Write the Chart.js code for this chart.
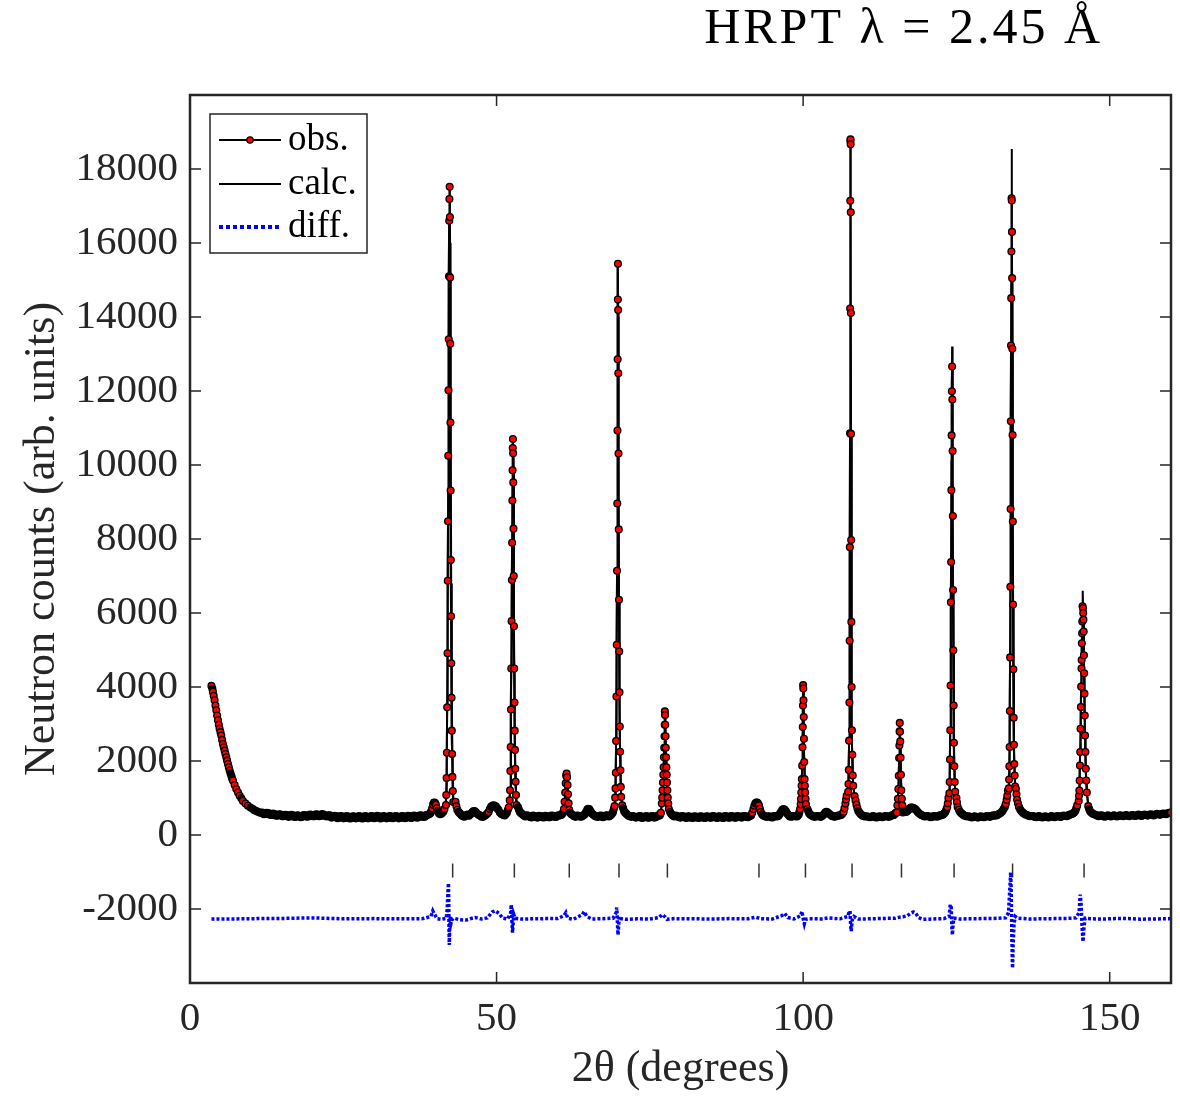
<!DOCTYPE html>
<html>
<head>
<meta charset="utf-8">
<script src="https://cdn.jsdelivr.net/npm/chart.js@4.4.0/dist/chart.umd.min.js"></script>
<style>
  html, body { margin: 0; padding: 0; background: #fff; }
  #wrap { width: 1180px; height: 1096px; }
</style>
</head>
<body>
<div id="wrap"><canvas id="hrpt" width="1180" height="1096"></canvas></div>
<script>
const lowAngle = [
	[3.5, 4030], [3.65, 3950], [3.73, 3870], [3.87, 3760], [4.01, 3640], [4.15, 3500], [4.29, 3370],
	[4.43, 3230], [4.56, 3100], [4.7, 2980], [4.83, 2870], [4.97, 2780], [5.1, 2690], [5.24, 2570],
	[5.37, 2460], [5.51, 2370], [5.65, 2280], [5.78, 2190], [5.92, 2100], [6.05, 2010], [6.19, 1920],
	[6.33, 1830], [6.46, 1740], [6.6, 1670], [6.74, 1600], [6.87, 1530], [7.0, 1470], [7.28, 1350],
	[7.55, 1240], [7.83, 1150], [8.1, 1060], [8.37, 990], [8.63, 920], [9.05, 850], [9.45, 790],
	[9.85, 740], [10.26, 700], [10.5, 670], [10.8, 650], [11.05, 630], [11.35, 610], [11.55, 600]
];

// flat background, first pass of channels
const background = [
	[11.8, 610], [12.3, 570], [12.8, 590], [13.3, 540], [13.8, 565], [14.3, 525], [14.8, 550], [15.3, 510],
	[15.8, 540], [16.3, 500], [16.8, 530], [17.3, 495], [17.8, 520], [18.3, 490], [18.8, 530], [19.3, 500],
	[19.8, 545], [20.3, 510], [20.8, 555], [21.3, 515], [21.8, 550], [22.3, 500], [22.8, 530], [23.3, 480],
	[23.8, 510], [24.3, 465], [24.8, 505], [25.3, 460], [25.8, 500], [26.3, 455], [26.8, 500], [27.3, 462],
	[27.8, 498], [28.3, 455], [28.8, 500], [29.3, 460], [29.8, 505], [30.3, 465], [30.8, 505], [31.3, 458],
	[31.8, 500], [32.3, 460], [32.8, 505], [33.3, 465], [33.8, 500], [34.3, 460], [34.8, 505], [35.3, 468],
	[35.8, 510], [36.3, 470], [36.8, 515], [37.3, 480], [37.8, 525], [38.3, 495], [38.8, 545], [39.2, 590],
	[39.5, 720], [39.8, 880], [40.1, 820], [40.4, 640], [40.8, 560], [41.2, 610], [41.5, 700],
	[43.3, 900], [43.6, 680], [44.0, 590], [44.5, 510], [45.0, 530], [45.5, 520], [46.0, 610], [46.4, 650],
	[46.8, 580], [47.3, 530], [47.8, 490], [48.3, 545], [48.7, 620], [49.1, 760], [49.5, 800], [49.9, 770],
	[50.3, 680], [50.8, 570], [51.3, 530], [51.7, 610], [52.0, 750],
	[53.5, 750], [53.8, 620], [54.2, 560], [54.7, 500], [55.2, 520], [55.7, 475], [56.2, 515], [56.7, 470],
	[57.2, 510], [57.7, 472], [58.2, 512], [58.7, 478], [59.2, 520], [59.7, 485], [60.2, 530], [60.6, 545],
	[60.9, 620],
	[62.0, 600], [62.4, 540], [62.9, 490], [63.4, 520], [63.9, 500], [64.4, 560], [64.8, 690], [65.1, 700],
	[65.4, 620], [65.8, 545], [66.3, 495], [66.8, 520], [67.3, 480], [67.8, 525], [68.3, 500], [68.7, 545],
	[69.0, 620], [69.25, 780],
	[70.5, 800], [70.8, 640], [71.2, 570], [71.7, 505], [72.2, 515], [72.7, 470], [73.2, 505], [73.7, 462],
	[74.2, 500], [74.7, 465], [75.2, 505], [75.7, 470], [76.2, 515], [76.6, 525], [76.8, 600],
	[78.3, 620], [78.6, 545], [79.0, 500], [79.5, 510], [80.0, 470], [80.5, 505], [81.0, 462], [81.5, 500],
	[82.0, 458], [82.5, 498], [83.0, 462], [83.5, 500], [84.0, 458], [84.5, 498], [85.0, 465], [85.5, 505],
	[86.0, 462], [86.5, 500], [87.0, 460], [87.5, 503], [88.0, 468], [88.5, 505], [89.0, 465], [89.5, 505],
	[90.0, 470], [90.5, 510], [91.0, 480], [91.5, 530], [91.9, 700], [92.2, 850], [92.5, 880], [92.8, 800],
	[93.1, 620], [93.5, 530], [94.0, 490], [94.5, 505], [95.0, 475], [95.5, 510], [96.0, 520], [96.4, 620],
	[96.8, 700], [97.2, 640], [97.6, 540], [98.0, 495], [98.5, 515], [99.0, 500], [99.3, 560], [99.5, 700],
	[100.7, 700], [101.0, 580], [101.4, 525], [101.9, 490], [102.4, 510], [102.9, 490], [103.4, 560], [103.8, 630],
	[104.2, 580], [104.7, 515], [105.2, 495], [105.7, 525], [106.2, 540], [106.6, 620], [106.9, 850], [107.1, 1060],
	[108.4, 1050], [108.7, 820], [109.0, 650], [109.4, 560], [109.9, 510], [110.4, 505], [110.9, 480], [111.4, 510],
	[111.9, 475], [112.4, 505], [112.9, 480], [113.4, 515], [113.9, 490], [114.4, 525], [114.8, 540], [115.1, 600],
	[116.4, 650], [116.8, 620], [117.2, 680], [117.6, 740], [118.0, 730], [118.4, 680], [118.8, 600], [119.3, 540],
	[119.8, 500], [120.3, 515], [120.8, 480], [121.3, 510], [121.8, 495], [122.3, 530], [122.8, 550], [123.2, 620],
	[123.5, 750], [123.7, 1000],
	[125.0, 1000], [125.2, 760], [125.6, 620], [126.0, 560], [126.5, 515], [127.0, 505], [127.5, 475], [128.0, 505],
	[128.5, 470], [129.0, 505], [129.5, 478], [130.0, 515], [130.5, 490], [131.0, 530], [131.5, 530], [132.0, 575],
	[132.5, 640], [132.9, 760], [133.2, 950], [133.4, 1200],
	[134.7, 1250], [134.9, 950], [135.2, 760], [135.6, 640], [136.0, 580], [136.5, 540], [137.0, 510], [137.5, 510],
	[138.0, 480], [138.5, 510], [139.0, 472], [139.5, 505], [140.0, 475], [140.5, 510], [141.0, 480], [141.5, 515],
	[142.0, 488], [142.5, 525], [143.0, 510], [143.5, 550], [144.0, 580], [144.4, 650], [144.7, 800],
	[146.5, 780], [146.8, 640], [147.2, 580], [147.7, 545], [148.2, 510], [148.7, 535], [149.2, 495], [149.7, 530],
	[150.2, 500], [150.7, 535], [151.2, 500], [151.7, 535], [152.2, 505], [152.7, 540], [153.2, 510], [153.7, 540],
	[154.2, 512], [154.7, 550], [155.2, 515], [155.7, 555], [156.2, 525], [156.7, 560], [157.2, 530], [157.7, 570],
	[158.2, 545], [158.7, 580], [159.2, 560], [159.7, 600], [160.0, 610]
];

// flat background, channels in between
const backgroundMid = [
	[12.05, 560], [12.55, 600], [13.05, 545], [13.55, 580], [14.05, 520], [14.55, 560], [15.05, 505], [15.55, 545],
	[16.05, 490], [16.55, 545], [17.05, 485], [17.55, 535], [18.05, 480], [18.55, 540], [19.05, 495], [19.55, 550],
	[20.05, 505], [20.55, 560], [21.05, 510], [21.55, 565], [22.05, 515], [22.55, 535], [23.05, 470], [23.55, 520],
	[24.05, 455], [24.55, 515], [25.05, 450], [25.55, 510], [26.05, 448], [26.55, 508], [27.05, 450], [27.55, 512],
	[28.05, 445], [28.55, 510], [29.05, 450], [29.55, 515], [30.05, 452], [30.55, 518], [31.05, 448], [31.55, 512],
	[32.05, 450], [32.55, 515], [33.05, 455], [33.55, 512], [34.05, 450], [34.55, 515], [35.05, 455], [35.55, 520],
	[36.05, 460], [36.55, 525], [37.05, 468], [37.55, 535], [38.05, 485], [38.55, 540], [39.0, 560], [39.35, 640],
	[39.65, 820], [39.95, 870], [40.25, 720], [40.6, 590], [41.0, 575], [41.35, 640],
	[43.45, 780], [43.8, 620], [44.25, 540], [44.75, 495], [45.25, 555], [45.75, 560], [46.2, 640], [46.6, 620],
	[47.05, 545], [47.55, 495], [48.05, 520], [48.5, 580], [48.9, 700], [49.3, 790], [49.7, 790], [50.1, 720],
	[50.55, 610], [51.05, 545], [51.5, 560], [51.85, 680],
	[53.65, 680], [54.0, 590], [54.45, 525], [54.95, 535], [55.45, 485], [55.95, 525], [56.45, 480], [56.95, 520],
	[57.45, 478], [57.95, 518], [58.45, 480], [58.95, 525], [59.45, 490], [59.95, 528], [60.4, 535], [60.75, 580],
	[62.2, 560], [62.65, 510], [63.15, 525], [63.65, 495], [64.15, 530], [64.6, 620], [64.95, 710], [65.25, 660],
	[65.6, 575], [66.05, 515], [66.55, 490], [67.05, 525], [67.55, 490], [68.05, 530], [68.5, 520], [68.85, 580],
	[69.12, 700],
	[70.65, 720], [71.0, 600], [71.45, 530], [71.95, 490], [72.45, 500], [72.95, 478], [73.45, 515], [73.95, 470],
	[74.45, 512], [74.95, 472], [75.45, 515], [75.95, 482], [76.4, 530], [76.7, 560],
	[78.45, 580], [78.8, 520], [79.25, 525], [79.75, 478], [80.25, 512], [80.75, 470], [81.25, 508], [81.75, 465],
	[82.25, 505], [82.75, 468], [83.25, 508], [83.75, 466], [84.25, 505], [84.75, 470], [85.25, 510], [85.75, 472],
	[86.25, 508], [86.75, 468], [87.25, 510], [87.75, 475], [88.25, 512], [88.75, 475], [89.25, 512], [89.75, 478],
	[90.25, 515], [90.75, 490], [91.25, 505], [91.7, 600], [92.05, 790], [92.35, 880], [92.65, 850], [92.95, 710],
	[93.3, 560], [93.75, 505], [94.25, 500], [94.75, 480], [95.25, 512], [95.75, 500], [96.2, 570], [96.6, 680],
	[97.0, 680], [97.4, 580], [97.8, 510], [98.25, 500], [98.75, 510], [99.15, 530], [99.4, 620],
	[100.85, 640], [101.2, 545], [101.65, 500], [102.15, 505], [102.65, 498], [103.15, 520], [103.6, 610], [104.0, 610],
	[104.45, 545], [104.95, 500], [105.45, 515], [105.95, 530], [106.4, 575], [106.75, 720], [107.0, 960],
	[108.55, 930], [108.85, 720], [109.2, 600], [109.65, 530], [110.15, 500], [110.65, 495], [111.15, 490], [111.65, 498],
	[112.15, 482], [112.65, 500], [113.15, 490], [113.65, 505], [114.15, 500], [114.6, 535], [114.95, 565],
	[116.6, 630], [117.0, 650], [117.4, 720], [117.8, 745], [118.2, 705], [118.6, 640], [119.05, 565], [119.55, 520],
	[120.05, 505], [120.55, 500], [121.05, 490], [121.55, 508], [122.05, 505], [122.55, 535], [123.0, 580], [123.35, 680],
	[123.6, 860],
	[125.1, 880], [125.4, 680], [125.8, 590], [126.25, 530], [126.75, 500], [127.25, 495], [127.75, 490], [128.25, 485],
	[128.75, 490], [129.25, 488], [129.75, 500], [130.25, 500], [130.75, 515], [131.25, 525], [131.75, 550], [132.25, 600],
	[132.7, 700], [133.05, 840], [133.3, 1060],
	[134.8, 1100], [135.05, 850], [135.4, 690], [135.8, 610], [136.25, 555], [136.75, 520], [137.25, 515], [137.75, 490],
	[138.25, 500], [138.75, 485], [139.25, 492], [139.75, 488], [140.25, 495], [140.75, 492], [141.25, 500], [141.75, 498],
	[142.25, 510], [142.75, 515], [143.25, 530], [143.75, 560], [144.2, 610], [144.55, 720],
	[146.65, 700], [147.0, 610], [147.45, 560], [147.95, 525], [148.45, 525], [148.95, 510], [149.45, 515], [149.95, 512],
	[150.45, 520], [150.95, 515], [151.45, 520], [151.95, 518], [152.45, 525], [152.95, 522], [153.45, 528], [153.95, 525],
	[154.45, 535], [154.95, 530], [155.45, 538], [155.95, 540], [156.45, 545], [156.95, 548], [157.45, 552], [157.95, 560],
	[158.45, 565], [158.95, 575], [159.45, 585], [159.85, 600]
];

// Bragg peaks (obs.)
const peak42 = [
	[41.75, 810], [41.8, 1080], [41.85, 1540], [41.9, 2220], [41.95, 3450], [42.0, 4910], [42.04, 6870],
	[42.08, 8480], [42.12, 10250], [42.16, 12020], [42.2, 13400], [42.24, 15100], [42.28, 16600], [42.31, 17190],
	[42.35, 17520], [42.39, 16700], [42.42, 15070], [42.45, 13280], [42.48, 11150], [42.51, 9310], [42.54, 7430],
	[42.58, 5910], [42.62, 4640], [42.66, 3710], [42.7, 2820], [42.75, 2190], [42.8, 1570], [42.86, 1190], [42.94, 890]
];
const peak53 = [
	[52.15, 940], [52.2, 1210], [52.25, 1730], [52.3, 2380], [52.35, 3390], [52.4, 4500], [52.45, 5780],
	[52.5, 6890], [52.54, 7900], [52.58, 9040], [52.61, 9860], [52.64, 10460], [52.67, 10700], [52.7, 10320],
	[52.73, 9530], [52.76, 8280], [52.8, 7000], [52.84, 5640], [52.88, 4500], [52.92, 3580], [52.96, 2820],
	[53.0, 2300], [53.05, 1790], [53.1, 1440], [53.17, 1080], [53.25, 810]
];
const peak61 = [
	[61.0, 700], [61.1, 900], [61.2, 1150], [61.28, 1400], [61.35, 1600], [61.42, 1660], [61.5, 1560],
	[61.58, 1350], [61.66, 1100], [61.75, 860], [61.85, 680]
];
const peak70 = [
	[69.35, 1010], [69.4, 1260], [69.45, 1680], [69.5, 2540], [69.55, 3740], [69.6, 5140], [69.65, 7140],
	[69.69, 8960], [69.72, 10930], [69.75, 12860], [69.78, 14470], [69.8, 15440], [69.83, 14190], [69.86, 12480],
	[69.89, 10310], [69.93, 8260], [69.97, 6360], [70.01, 4960], [70.05, 3860], [70.1, 2930], [70.15, 2250],
	[70.2, 1750], [70.26, 1300], [70.33, 1030]
];
const peak77 = [
	[76.95, 850], [77.02, 1010], [77.08, 1210], [77.14, 1420], [77.2, 1630], [77.25, 1830], [77.3, 2100],
	[77.35, 2360], [77.39, 2670], [77.42, 2980], [77.45, 3340], [77.48, 3240], [77.52, 2980], [77.56, 2670],
	[77.6, 2360], [77.65, 2100], [77.7, 1830], [77.75, 1630], [77.8, 1420], [77.86, 1210], [77.92, 1010],
	[78.0, 850], [78.1, 700]
];
const peak100 = [
	[99.6, 830], [99.65, 970], [99.7, 1150], [99.75, 1330], [99.8, 1510], [99.85, 1875], [99.9, 2370],
	[99.94, 2920], [99.97, 3500], [100.0, 4050], [100.03, 3960], [100.06, 3640], [100.1, 3190], [100.14, 2600],
	[100.18, 1970], [100.23, 1510], [100.28, 1330], [100.34, 1150], [100.4, 970], [100.47, 830]
];
const peak108 = [
	[107.35, 1170], [107.4, 1380], [107.45, 1760], [107.5, 2550], [107.55, 3580], [107.59, 5250], [107.62, 7780],
	[107.65, 10860], [107.67, 14230], [107.69, 17140], [107.71, 18760], [107.73, 18800], [107.75, 18670],
	[107.77, 16830], [107.79, 14110], [107.81, 10840], [107.84, 7970], [107.87, 5760], [107.91, 4000],
	[107.96, 2830], [108.02, 2170], [108.09, 1610], [108.17, 1330]
];
const peak116 = [
	[115.3, 610], [115.38, 800], [115.46, 980], [115.53, 1240], [115.6, 1600], [115.66, 2080], [115.7, 2420],
	[115.73, 2800], [115.76, 3030], [115.8, 2790], [115.84, 2530], [115.89, 2090], [115.95, 1630], [116.02, 1210],
	[116.1, 980], [116.18, 800], [116.27, 610]
];
const peak124 = [
	[123.85, 1130], [123.9, 1430], [123.95, 2040], [124.0, 2830], [124.05, 4040], [124.1, 6290], [124.14, 7380],
	[124.18, 9320], [124.22, 10800], [124.26, 11990], [124.3, 12660], [124.34, 11770], [124.38, 10380],
	[124.42, 8620], [124.46, 6620], [124.5, 4990], [124.55, 3500], [124.6, 2490], [124.66, 1860], [124.72, 1430],
	[124.8, 1170]
];
const peak134 = [
	[133.55, 1260], [133.6, 1500], [133.64, 1860], [133.68, 2380], [133.72, 3350], [133.76, 4800], [133.8, 6710],
	[133.84, 8810], [133.88, 11180], [133.91, 13230], [133.94, 14510], [133.97, 15770], [134.0, 17210],
	[134.03, 17150], [134.06, 16300], [134.09, 15050], [134.12, 13140], [134.16, 10810], [134.2, 8470],
	[134.24, 6230], [134.29, 4480], [134.34, 3170], [134.39, 2440], [134.44, 1920], [134.5, 1610], [134.58, 1310]
];
const peak146 = [
	[144.95, 920], [145.0, 1060], [145.05, 1200], [145.1, 1470], [145.15, 1880], [145.2, 2240], [145.25, 2870],
	[145.3, 3460], [145.35, 4010], [145.4, 4500], [145.43, 4730], [145.46, 5180], [145.5, 5450], [145.53, 5770],
	[145.57, 6180], [145.64, 6130], [145.68, 6000], [145.72, 5820], [145.76, 5500], [145.8, 4860], [145.84, 4370],
	[145.88, 3820], [145.93, 3230], [145.98, 2690], [146.04, 2240], [146.1, 1790], [146.18, 1470], [146.27, 1150]
];

// Calculated profile
const calcProfile = [
	[3.5, 4000], [4, 3650], [4.5, 3160], [5, 2760], [5.5, 2380], [6, 2050], [6.5, 1730], [7, 1460], [7.5, 1260],
	[8, 1090], [8.5, 950], [9, 850], [9.5, 780], [10, 720], [11, 630], [12, 580], [13, 555], [15, 525], [17, 510],
	[19, 512], [21, 528], [23, 505], [25, 483], [28, 479], [31, 481], [34, 482], [37, 498], [38.8, 530], [39.4, 680],
	[39.8, 860], [40.2, 760], [40.7, 580], [41.3, 620], [41.7, 800],
	[41.85, 1500], [42.0, 4900], [42.1, 9300], [42.2, 13400], [42.28, 16500], [42.35, 17450], [42.42, 16000],
	[42.5, 11700], [42.6, 6800], [42.7, 3700], [42.8, 2200], [42.95, 1000], [43.2, 880], [43.5, 700], [44, 580],
	[45, 515], [46, 590], [46.4, 640], [47, 550], [48, 505], [49, 750], [49.5, 790], [50, 760], [51, 560],
	[51.7, 610], [52.0, 760],
	[52.2, 1200], [52.35, 3390], [52.5, 6890], [52.6, 9500], [52.67, 10750], [52.74, 9900], [52.84, 5640],
	[52.96, 2820], [53.1, 1440], [53.3, 820], [53.8, 620], [54.5, 510], [56, 492], [58, 491], [60, 510],
	[60.8, 600], [61.1, 900], [61.3, 1450], [61.42, 1680], [61.55, 1450], [61.75, 860], [62, 600], [63, 505],
	[64.4, 560], [65, 700], [65.5, 600], [66.5, 505], [68.5, 520], [69.1, 640], [69.3, 850],
	[69.45, 1700], [69.55, 3700], [69.65, 7100], [69.72, 10900], [69.78, 14400], [69.8, 15450], [69.84, 14000],
	[69.9, 10000], [69.97, 6400], [70.05, 3900], [70.15, 2250], [70.3, 1150], [70.5, 780], [71, 590], [72, 502],
	[74, 481], [76, 498], [76.8, 600],
	[77.0, 1000], [77.2, 1630], [77.35, 2360], [77.45, 3360], [77.55, 2700], [77.7, 1830], [77.9, 1050],
	[78.1, 700], [78.4, 600], [79, 510], [81, 482], [84, 479], [87, 481], [90, 488], [91.5, 530], [92, 720],
	[92.5, 870], [93, 680], [93.5, 530], [95, 490], [96.4, 610], [96.8, 690], [97.3, 620], [98, 505],
	[99.2, 540], [99.5, 700],
	[99.7, 1150], [99.85, 1880], [99.94, 2900], [100.0, 4080], [100.06, 3620], [100.14, 2600], [100.28, 1330],
	[100.47, 830], [100.7, 690], [101.4, 520], [102.5, 495], [103.8, 620], [104.7, 520], [106.2, 540],
	[106.8, 750], [107.1, 1050],
	[107.35, 1200], [107.5, 2550], [107.6, 5300], [107.65, 10900], [107.69, 17100], [107.73, 18800],
	[107.77, 16800], [107.81, 10800], [107.87, 5700], [107.96, 2800], [108.09, 1600], [108.2, 1300],
	[108.4, 1050], [108.7, 820], [109.4, 560], [110.5, 500], [112, 490], [114, 508], [115.1, 600],
	[115.3, 620], [115.5, 1100], [115.66, 2080], [115.76, 3050], [115.86, 2400], [116.0, 1400], [116.2, 780],
	[116.5, 640], [116.8, 620], [117.6, 730], [118.4, 680], [119.3, 540], [121, 497], [122.5, 530], [123.2, 620],
	[123.6, 900],
	[123.85, 1150], [124.0, 2830], [124.1, 6290], [124.2, 10100], [124.27, 12400], [124.3, 13200],
	[124.34, 11900], [124.42, 8600], [124.5, 5000], [124.6, 2500], [124.72, 1430], [124.85, 1120], [125.1, 900],
	[125.6, 620], [126.5, 520], [128, 490], [130, 500], [132, 570], [132.9, 760], [133.3, 1100],
	[133.55, 1300], [133.68, 2400], [133.8, 6700], [133.88, 11200], [133.95, 15000], [134.01, 18540],
	[134.06, 16400], [134.12, 13100], [134.2, 8500], [134.29, 4500], [134.39, 2450], [134.5, 1600],
	[134.65, 1270], [134.9, 950], [135.6, 640], [136.5, 540], [138.5, 495], [141, 498], [143, 525], [144, 580],
	[144.7, 800],
	[144.95, 940], [145.1, 1480], [145.25, 2870], [145.4, 4500], [145.5, 5500], [145.6, 6600], [145.7, 5900],
	[145.8, 4850], [145.93, 3230], [146.04, 2240], [146.18, 1470], [146.3, 1100], [146.6, 730], [147.2, 580],
	[148.5, 522], [151, 518], [154, 530], [157, 548], [159, 575], [160, 605]
];

// Difference curve (obs - calc, shifted)
const diffCurve = [
	[3.5, -2270], [10.8, -2265], [11, -2260], [15, -2255], [20, -2240], [22, -2250], [25, -2265], [30, -2260],
	[35, -2265], [38, -2260], [39.3, -2200], [39.6, -2050], [39.9, -2150], [40.3, -2260], [41, -2280],
	[41.8, -2250], [41.95, -2000], [42.05, -1600], [42.15, -1300], [42.2, -1800], [42.25, -2600], [42.3, -2970],
	[42.35, -2500], [42.45, -2200], [42.55, -2400], [42.7, -2300], [43, -2250], [44, -2290], [45, -2300],
	[46, -2250], [46.5, -2230], [47.5, -2270], [48.5, -2240], [49.3, -2080], [49.8, -2050], [50.4, -2120],
	[51, -2250], [51.8, -2270], [52.3, -2100], [52.4, -1880], [52.5, -2300], [52.6, -2640], [52.7, -2400],
	[52.8, -2150], [53, -2250], [54, -2270], [56, -2265], [58, -2260], [60, -2255], [61, -2180], [61.3, -2100],
	[61.6, -2250], [62.5, -2280], [64, -2150], [64.3, -2070], [64.7, -2200], [65.5, -2270], [67, -2265],
	[69, -2250], [69.5, -2100], [69.6, -1960], [69.7, -2300], [69.8, -2700], [69.9, -2500], [70, -2200],
	[70.3, -2260], [71, -2280], [73, -2265], [75, -2270], [76.5, -2230], [77, -2150], [77.4, -2200],
	[77.8, -2280], [79, -2260], [82, -2265], [85, -2270], [88, -2260], [91, -2265], [92.3, -2220], [93, -2260],
	[95, -2270], [96.5, -2180], [97, -2120], [97.5, -2230], [98.5, -2270], [99.6, -2180], [99.8, -2060],
	[100, -2250], [100.2, -2400], [100.4, -2280], [101, -2260], [103, -2270], [104, -2240], [106, -2265],
	[107.3, -2200], [107.5, -2080], [107.65, -2050], [107.75, -2450], [107.85, -2600], [108, -2300],
	[108.3, -2200], [109, -2270], [111, -2265], [113, -2255], [115, -2250], [115.7, -2220], [116.3, -2210],
	[117, -2180], [117.5, -2120], [118, -2080], [118.4, -2120], [118.8, -2230], [119.5, -2280], [121, -2270],
	[123, -2260], [123.8, -2200], [124.0, -1880], [124.15, -1950], [124.25, -2450], [124.35, -2700],
	[124.45, -2400], [124.6, -2250], [125.5, -2270], [127, -2265], [129, -2260], [131, -2255], [133, -2240],
	[133.5, -2100], [133.7, -1500], [133.85, -1010], [133.95, -1600], [134.05, -2800], [134.15, -3600],
	[134.25, -3000], [134.4, -2400], [134.6, -2200], [135, -2250], [137, -2270], [139, -2265], [141, -2260],
	[143, -2255], [144.5, -2240], [145.0, -2100], [145.2, -1610], [145.35, -1900], [145.5, -2500],
	[145.65, -2880], [145.8, -2500], [146, -2250], [147, -2265], [149, -2270], [151, -2260], [153, -2260],
	[155, -2275], [157, -2270], [159, -2265], [160, -2260]
];

// Bragg reflection markers
const reflTheta = [42.84, 52.9, 61.86, 69.97, 77.86, 92.8, 100.38, 107.98, 116.04, 124.62, 134.16, 145.82];
const reflRow = -960;

// Axis ticks
const xTicks = [0, 50, 100, 150];
const yLabelled = [-2000, 0, 2000, 4000, 6000, 8000, 10000, 12000, 14000, 16000, 18000];

const toXY = (pairs) => pairs.map(([x, y]) => ({ x: x, y: y }));

const obsPoints = toXY([lowAngle, background, backgroundMid, peak42, peak53, peak61, peak70, peak77,
	peak100, peak108, peak116, peak124, peak134, peak146].flat().sort((a, b) => a[0] - b[0]));
const calcPoints = toXY(calcProfile);
const diffPoints = toXY(diffCurve);
const reflPoints = reflTheta.map((t) => ({ x: t, y: reflRow }));

const SERIF = "'Liberation Serif', 'Times New Roman', serif";
const INK = '#262626';

// where markers pile up (flat background) the black edges hide the red fill
function markerFill(c) {
	const pts = c.dataset.data;
	const i = c.dataIndex;
	const sx = c.chart.scales.x, sy = c.chart.scales.y;
	if (!sx || !sy || i <= 0 || i >= pts.length - 1) return '#ff0000';
	const px = (p) => [sx.getPixelForValue(p.x), sy.getPixelForValue(p.y)];
	const [x0, y0] = px(pts[i]);
	const near = [pts[i - 1], pts[i + 1]].every((p) => {
		const [x1, y1] = px(p);
		return Math.hypot(x1 - x0, y1 - y0) < 3.2;
	});
	return near ? '#000' : '#ff0000';
}

// frame with inward ticks on all four sides (matlab box on)
const axesBox = {
	id: 'axesBox',
	afterDatasetsDraw(chart) {
		const { ctx, chartArea: a, scales } = chart;
		const len = 11;
		ctx.save();
		ctx.strokeStyle = INK;
		ctx.lineWidth = 1.5;
		ctx.beginPath();
		scales.x.ticks.forEach((t) => {
			const px = scales.x.getPixelForValue(t.value);
			ctx.moveTo(px, a.bottom); ctx.lineTo(px, a.bottom - len);
			ctx.moveTo(px, a.top); ctx.lineTo(px, a.top + len);
		});
		scales.y.ticks.forEach((t) => {
			const py = scales.y.getPixelForValue(t.value);
			ctx.moveTo(a.left, py); ctx.lineTo(a.left + len, py);
			ctx.moveTo(a.right, py); ctx.lineTo(a.right - len, py);
		});
		ctx.stroke();
		ctx.lineWidth = 2.5;
		ctx.strokeRect(a.left, a.top, a.right - a.left, a.bottom - a.top);
		ctx.restore();
	}
};

// legend box in the top-left corner
const legendBox = {
	id: 'legendBox',
	afterDraw(chart) {
		const { ctx, chartArea: a } = chart;
		const left = a.left + 20, top = a.top + 19, w = 157, h = 139;
		ctx.save();
		ctx.fillStyle = '#fff';
		ctx.fillRect(left, top, w, h);
		ctx.strokeStyle = INK;
		ctx.lineWidth = 1.5;
		ctx.strokeRect(left, top, w, h);

		const x0 = left + 9, x1 = left + 71;
		const rows = [top + 26, top + 70, top + 113];

		// obs.
		ctx.strokeStyle = '#000';
		ctx.lineWidth = 2;
		ctx.beginPath();
		ctx.moveTo(x0, rows[0]); ctx.lineTo(x1, rows[0]);
		ctx.moveTo(x0, rows[1]); ctx.lineTo(x1, rows[1]);
		ctx.stroke();
		ctx.beginPath();
		ctx.arc((x0 + x1) / 2, rows[0], 3.2, 0, Math.PI * 2);
		ctx.fillStyle = '#ff0000';
		ctx.fill();
		ctx.lineWidth = 1.2;
		ctx.stroke();

		// diff.
		ctx.strokeStyle = '#0000ff';
		ctx.lineWidth = 4;
		ctx.setLineDash([4, 3]);
		ctx.beginPath();
		ctx.moveTo(x0, rows[2]); ctx.lineTo(x1, rows[2]);
		ctx.stroke();
		ctx.setLineDash([]);

		ctx.fillStyle = '#000';
		ctx.font = '37px ' + SERIF;
		ctx.textBaseline = 'middle';
		ctx.textAlign = 'left';
		['obs.', 'calc.', 'diff.'].forEach((s, i) => ctx.fillText(s, x1 + 7, rows[i]));
		ctx.restore();
	}
};

// title above the axes, right side
const titleText = {
	id: 'titleText',
	afterDraw(chart) {
		const { ctx, chartArea: a } = chart;
		ctx.save();
		ctx.fillStyle = '#000';
		ctx.font = '50px ' + SERIF;
		ctx.letterSpacing = '3px';
		ctx.textAlign = 'right';
		ctx.textBaseline = 'alphabetic';
		ctx.fillText('HRPT \u03bb = 2.45 \u00c5', a.right - 68, a.top - 52);
		ctx.restore();
	}
};

new Chart(document.getElementById('hrpt'), {
	type: 'line',
	data: {
		datasets: [
			{
				label: 'obs.',
				data: obsPoints,
				borderColor: '#000',
				borderWidth: 2,
				pointRadius: 3.4,
				pointHoverRadius: 3.4,
				pointBackgroundColor: markerFill,
				pointBorderColor: '#000',
				pointBorderWidth: 1.3
			},
			{
				label: 'calc.',
				data: calcPoints,
				borderColor: '#000',
				borderWidth: 2,
				pointRadius: 0
			},
			{
				label: 'diff.',
				data: diffPoints,
				borderColor: '#0000ff',
				borderWidth: 3.5,
				borderDash: [3, 2],
				pointRadius: 0
			},
			{
				label: 'hkl',
				data: reflPoints,
				showLine: false,
				pointStyle: 'line',
				pointRotation: 90,
				pointRadius: 7,
				pointBorderColor: '#333',
				pointBorderWidth: 1.5
			}
		]
	},
	options: {
		responsive: false,
		animation: false,
		devicePixelRatio: 1,
		layout: { padding: { top: 95, right: 9, left: 0, bottom: 0 } },
		plugins: {
			legend: { display: false },
			tooltip: { enabled: false }
		},
		scales: {
			x: {
				type: 'linear',
				min: 0,
				max: 160,
				afterFit: (s) => { s.height = 113; },
				afterBuildTicks: (s) => { s.ticks = xTicks.map((v) => ({ value: v })); },
				grid: { display: false, drawTicks: false },
				border: { display: false },
				ticks: {
					padding: 12,
					color: INK,
					font: { family: SERIF, size: 41 }
				},
				title: {
					display: true,
					text: '2\u03b8 (degrees)',
					color: INK,
					font: { family: SERIF, size: 44 },
					padding: { top: 0, bottom: 0 }
				}
			},
			y: {
				type: 'linear',
				min: -4000,
				max: 20000,
				afterFit: (s) => { s.width = 190; },
				grid: { display: false, drawTicks: false },
				border: { display: false },
				ticks: {
					stepSize: 2000,
					padding: 12,
					color: INK,
					font: { family: SERIF, size: 41 },
					callback: (v) => (yLabelled.includes(v) ? String(v) : '')
				},
				title: {
					display: true,
					text: 'Neutron counts (arb. units)',
					color: INK,
					font: { family: SERIF, size: 44 },
					padding: { top: 16, bottom: 0 }
				}
			}
		}
	},
	plugins: [axesBox, legendBox, titleText]
});
</script>
</body>
</html>
